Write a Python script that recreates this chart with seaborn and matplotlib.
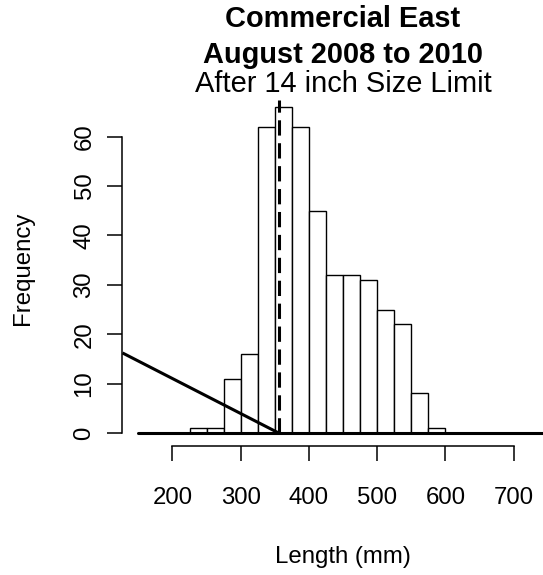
import matplotlib
matplotlib.use("Agg")
import matplotlib.pyplot as plt
import seaborn as sns
import numpy as np
import pandas as pd

# ---- data ----
bin_edges = [225, 250, 275, 300, 325, 350, 375, 400, 425, 450, 475, 500, 525, 550, 575, 600]
counts = [1, 1, 11, 16, 62, 66, 62, 45, 32, 32, 31, 25, 22, 8, 1]
x_ticks = [200, 300, 400, 500, 600, 700]
y_ticks = [0, 10, 20, 30, 40, 50, 60]
size_limit_mm = 355.6
limit_line_top = 67.5
diag_x = [126.8, 355.6]
diag_y = [16.2, 0]
base_x = [150, 750]
base_y = [0, 0]
title_lines = ["Commercial East", "August 2008 to 2010"]
subtitle = "After 14 inch Size Limit"
x_label = "Length (mm)"
y_label = "Frequency"

sns.set_style("white")
plt.rcParams["font.family"] = ["Liberation Sans", "DejaVu Sans"]
plt.rcParams["text.color"] = "black"
plt.rcParams["axes.labelcolor"] = "black"
plt.rcParams["xtick.color"] = "black"
plt.rcParams["ytick.color"] = "black"

W, H = 543, 575
fig = plt.figure(figsize=(W / 100, H / 100), dpi=100)
left, right, top, bottom = 122, 564, 94, 446
ax = fig.add_axes([left / W, 1 - bottom / H, (right - left) / W, (bottom - top) / H])

centers = [(a + b) / 2 for a, b in zip(bin_edges[:-1], bin_edges[1:])]
df = pd.DataFrame({"length": centers, "n": counts})
sns.histplot(data=df, x="length", weights="n", bins=bin_edges, ax=ax,
             color="white", edgecolor="black", linewidth=1.0, alpha=1, zorder=2)

ax.plot(base_x, base_y, color="black", lw=2.2, clip_on=False, zorder=3)
ax.plot(diag_x, diag_y, color="black", lw=2.2, zorder=3, solid_capstyle="butt")
ax.plot([size_limit_mm, size_limit_mm], [0, limit_line_top], color="black", lw=2.2,
        dashes=(5, 2.5), zorder=4)

ax.set_xlim(126, 774)
ax.set_ylim(-2.64, 68.64)
ax.set_xticks(x_ticks)
ax.set_yticks(y_ticks)
ax.set_xticklabels([str(v) for v in x_ticks])
ax.set_yticklabels([str(v) for v in y_ticks], rotation=90, va="center")
ax.set_xlabel("")
ax.set_ylabel("")
for s in ["top", "right"]:
    ax.spines[s].set_visible(False)
ax.spines["left"].set_bounds(0, 60)
ax.spines["bottom"].set_bounds(200, 700)
for s in ["left", "bottom"]:
    ax.spines[s].set_linewidth(1.1)
    ax.spines[s].set_color("black")
ax.tick_params(axis="x", length=10.5, width=1.1, direction="out", pad=19,
               labelsize=17.3, colors="black", bottom=True)
ax.tick_params(axis="y", length=10.5, width=1.1, direction="out", pad=8.5,
               labelsize=17.3, colors="black", left=True)
ax.grid(False)
ax.set_facecolor("white")

cx = (left + right) / 2 / W
fig.text(cx, 1 - 26.7 / H, title_lines[0], ha="center", va="baseline",
         fontsize=20.9, fontweight="bold", color="black")
fig.text(cx, 1 - 62.7 / H, title_lines[1], ha="center", va="baseline",
         fontsize=20.9, fontweight="bold", color="black")
fig.text(cx, 1 - 91.7 / H, subtitle, ha="center", va="baseline", fontsize=20.9,
         color="black")
fig.text(cx, 1 - 557 / H, x_label, ha="center", va="center", fontsize=17.3,
         color="black")
fig.text(23 / W, 1 - 268 / H, y_label, ha="center", va="center", rotation=90,
         fontsize=17.3, color="black")

fig.savefig("out.png", dpi=100, facecolor="white")
